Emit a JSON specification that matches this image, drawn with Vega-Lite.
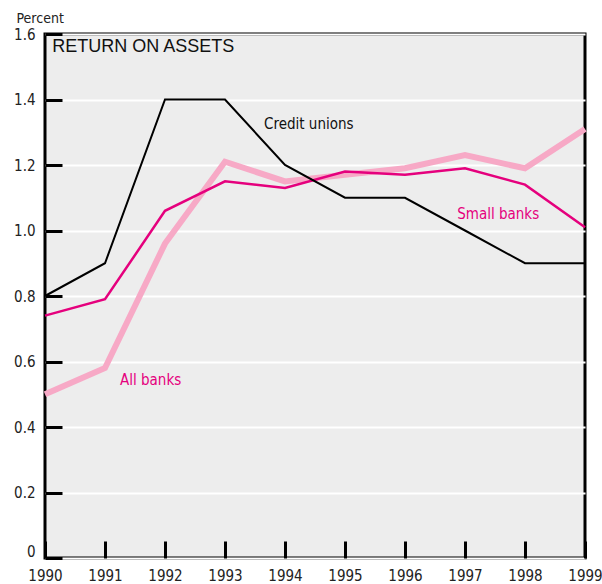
{
  "$schema": "https://vega.github.io/schema/vega-lite/v6.json",
  "width": 540,
  "height": 524,
  "autosize": "none",
  "padding": {"left": 45, "top": 34, "right": 17, "bottom": 26},
  "background": "white",
  "config": {
    "view": {"fill": "#EDEDED", "stroke": "black", "strokeWidth": 3},
    "font": "'DejaVu Sans Condensed', 'Liberation Sans', sans-serif"
  },
  "datasets": {
    "lines": [
      {"year": 1990, "series": "All banks", "value": 0.50},
      {"year": 1991, "series": "All banks", "value": 0.58},
      {"year": 1992, "series": "All banks", "value": 0.96},
      {"year": 1993, "series": "All banks", "value": 1.21},
      {"year": 1994, "series": "All banks", "value": 1.15},
      {"year": 1995, "series": "All banks", "value": 1.17},
      {"year": 1996, "series": "All banks", "value": 1.19},
      {"year": 1997, "series": "All banks", "value": 1.23},
      {"year": 1998, "series": "All banks", "value": 1.19},
      {"year": 1999, "series": "All banks", "value": 1.31},
      {"year": 1990, "series": "Small banks", "value": 0.74},
      {"year": 1991, "series": "Small banks", "value": 0.79},
      {"year": 1992, "series": "Small banks", "value": 1.06},
      {"year": 1993, "series": "Small banks", "value": 1.15},
      {"year": 1994, "series": "Small banks", "value": 1.13},
      {"year": 1995, "series": "Small banks", "value": 1.18},
      {"year": 1996, "series": "Small banks", "value": 1.17},
      {"year": 1997, "series": "Small banks", "value": 1.19},
      {"year": 1998, "series": "Small banks", "value": 1.14},
      {"year": 1999, "series": "Small banks", "value": 1.01},
      {"year": 1990, "series": "Credit unions", "value": 0.80},
      {"year": 1991, "series": "Credit unions", "value": 0.90},
      {"year": 1992, "series": "Credit unions", "value": 1.40},
      {"year": 1993, "series": "Credit unions", "value": 1.40},
      {"year": 1994, "series": "Credit unions", "value": 1.20},
      {"year": 1995, "series": "Credit unions", "value": 1.10},
      {"year": 1996, "series": "Credit unions", "value": 1.10},
      {"year": 1997, "series": "Credit unions", "value": 1.00},
      {"year": 1998, "series": "Credit unions", "value": 0.90},
      {"year": 1999, "series": "Credit unions", "value": 0.90}
    ],
    "labels": [
      {"year": 1993.65, "value": 1.324, "text": "Credit unions", "series": "Credit unions"},
      {"year": 1996.87, "value": 1.049, "text": "Small banks", "series": "Small banks"},
      {"year": 1991.25, "value": 0.545, "text": "All banks", "series": "Small banks"}
    ],
    "title": [
      {"year": 1990.12, "value": 1.559, "text": "RETURN ON ASSETS"}
    ]
  },
  "encoding": {
    "x": {
      "field": "year", "type": "quantitative",
      "scale": {"domain": [1990, 1999], "nice": false, "zero": false},
      "axis": {
        "title": null, "domain": false, "grid": false,
        "values": [1990, 1991, 1992, 1993, 1994, 1995, 1996, 1997, 1998, 1999],
        "format": "d", "tickSize": -17, "tickWidth": 3, "tickColor": "black",
        "labelFontSize": 15, "labelColor": "#222", "labelPadding": 27,
        "labelFlush": false, "labelOverlap": false
      }
    },
    "y": {
      "field": "value", "type": "quantitative",
      "scale": {"domain": [0, 1.6], "nice": false},
      "axis": {
        "title": "Percent", "titleAngle": 0, "titleX": -29, "titleY": -16,
        "titleAlign": "left", "titleBaseline": "middle",
        "titleFontSize": 14, "titleFontWeight": "normal", "titleColor": "#222",
        "domain": false, "grid": true, "gridColor": "white", "gridWidth": 2,
        "values": [0, 0.2, 0.4, 0.6, 0.8, 1.0, 1.2, 1.4, 1.6],
        "labelExpr": "datum.value == 0 ? '0' : format(datum.value, '.1f')",
        "tickSize": -17, "tickWidth": 3, "tickColor": "black",
        "labelFontSize": 15, "labelColor": "#222", "labelPadding": 27,
        "labelFlush": false, "labelOverlap": false,
        "labelOffset": {"condition": {"test": "datum.value == 0", "value": -7}, "value": 0}
      }
    }
  },
  "layer": [
    {
      "data": {"name": "lines"},
      "transform": [{"filter": "datum.series == 'All banks'"}],
      "mark": {"type": "line", "color": "#F7A9C6", "strokeWidth": 6, "strokeJoin": "miter"}
    },
    {
      "data": {"name": "lines"},
      "transform": [{"filter": "datum.series == 'Small banks'"}],
      "mark": {"type": "line", "color": "#E5007D", "strokeWidth": 2.5, "strokeJoin": "miter"}
    },
    {
      "data": {"name": "lines"},
      "transform": [{"filter": "datum.series == 'Credit unions'"}],
      "mark": {"type": "line", "color": "black", "strokeWidth": 2, "strokeJoin": "miter"}
    },
    {
      "data": {"name": "labels"},
      "mark": {"type": "text", "align": "left", "baseline": "middle", "fontSize": 15},
      "encoding": {
        "text": {"field": "text"},
        "color": {"field": "series", "type": "nominal", "scale": {"domain": ["Credit unions", "Small banks"], "range": ["#111111", "#E5007D"]}, "legend": null}
      }
    },
    {
      "data": {"name": "title"},
      "mark": {"type": "text", "align": "left", "baseline": "middle", "fontSize": 18, "font": "Liberation Sans", "color": "#111"},
      "encoding": {"text": {"field": "text"}}
    }
  ]
}
